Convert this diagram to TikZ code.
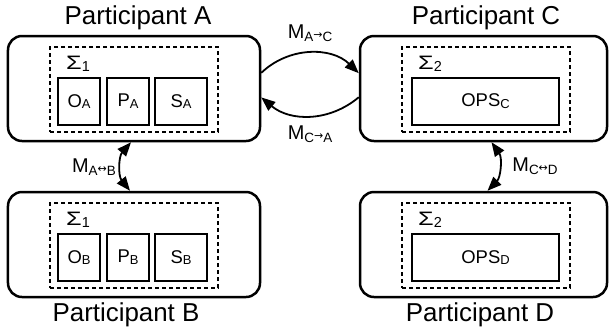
\documentclass[tikz,border=0pt]{standalone}
\usepackage{fontspec}
\setmainfont{Liberation Sans}
\newfontfamily\arrfont{DejaVu Sans}
\usetikzlibrary{arrows.meta,calc}
\newcommand\sbx[1]{\raisebox{-1.8bp}{\fontsize{13}{13}\selectfont #1}}
\newcommand\msub[1]{\raisebox{-2.8bp}{\fontsize{13.5}{13.5}\selectfont #1}}
\newcommand\marr[1]{\raisebox{3bp}{\arrfont\fontsize{11}{11}\selectfont #1}}
\newcommand\sig[1]{\scalebox{1.3}[1]{Σ}\raisebox{-2bp}{\fontsize{14.5}{14.5}\selectfont #1}}
\begin{document}
\begin{tikzpicture}[x=1bp,y=-1bp,
  participant/.style={draw, line width=2.5bp, rounded corners=14bp, minimum width=252bp, minimum height=105bp, inner sep=0pt},
  sigmabox/.style={draw, dash pattern=on 4bp off 3bp, line width=1.2bp, minimum width=168bp, minimum height=85bp, inner sep=0pt},
  comp/.style={draw, line width=1.2bp, minimum height=47bp, inner sep=0pt, font=\fontsize{18.5}{18.5}\selectfont},
  sigmalab/.style={anchor=base west, inner sep=0pt, font=\fontsize{19.5}{19.5}\selectfont},
  ptitle/.style={inner sep=0pt, font=\fontsize{26}{26}\selectfont},
  mlab/.style={inner sep=0pt, font=\fontsize{20}{20}\selectfont},
  msg/.style={line width=1.8bp, -{Triangle[length=14bp,width=11bp]}},
  dmsg/.style={line width=1.8bp, {Triangle[length=14bp,width=11bp]}-{Triangle[length=14bp,width=11bp]}}
]
\useasboundingbox (0,0) rectangle (610,333);
% participants
\node[participant] (A) at (134,88.5) {};
\node[participant, minimum width=247bp] (C) at (483.5,88.5) {};
\node[participant] (B) at (134,244.5) {};
\node[participant, minimum width=247bp] (D) at (483.5,244.5) {};
% titles
\node[ptitle] (tA) at (138,18) {Participant A};
\node[ptitle] (tC) at (486,18) {Participant C};
\node[ptitle] (tB) at (126,315) {Participant B};
\node[ptitle] (tD) at (480,315) {Participant D};
% sigma boxes
\node[sigmabox] (SA) at (134,89.5) {};
\node[sigmabox] (SC) at (486,89.5) {};
\node[sigmabox] (SB) at (134,245.5) {};
\node[sigmabox] (SD) at (486,245.5) {};
\node[sigmalab] (sgA) at (66,69) {\sig{1}};
\node[sigmalab] (sgC) at (418,69) {\sig{2}};
\node[sigmalab] (sgB) at (66,225) {\sig{1}};
\node[sigmalab] (sgD) at (418,225) {\sig{2}};
% components
\node[comp, minimum width=42bp] (OA) at (79,101.5) {O\sbx{A}};
\node[comp, minimum width=42bp] (PA) at (128,101.5) {P\sbx{A}};
\node[comp, minimum width=52bp] (SsA) at (181,101.5) {S\sbx{A}};
\node[comp, minimum width=147bp] (OPSC) at (485.5,101.5) {OPS\sbx{C}};
\node[comp, minimum width=42bp] (OB) at (79,257.5) {O\sbx{B}};
\node[comp, minimum width=42bp] (PB) at (128,257.5) {P\sbx{B}};
\node[comp, minimum width=52bp] (SsB) at (181,257.5) {S\sbx{B}};
\node[comp, minimum width=147bp] (OPSD) at (485.5,257.5) {OPS\sbx{D}};
% messages
\draw[msg] (A.7) to[bend left=44] (C.173);
\draw[msg] (C.184) to[bend left=40] (A.-4);
\draw[dmsg] ($(A.south)+(-3,0)$) to[bend right=40] ($(B.north)+(-4,0)$);
\draw[dmsg] ($(C.south)+(8,0)$) to[bend left=40] ($(D.north)+(4,0)$);
\node[mlab] (mAC) at (310,33) {M\msub{A\marr{→}C}};
\node[mlab] (mCA) at (310,134) {M\msub{C\marr{→}A}};
\node[mlab] (mAB) at (94,167) {M\msub{A\marr{↔}B}};
\node[mlab] (mCD) at (535,166) {M\msub{C\marr{↔}D}};
\end{tikzpicture}
\end{document}
